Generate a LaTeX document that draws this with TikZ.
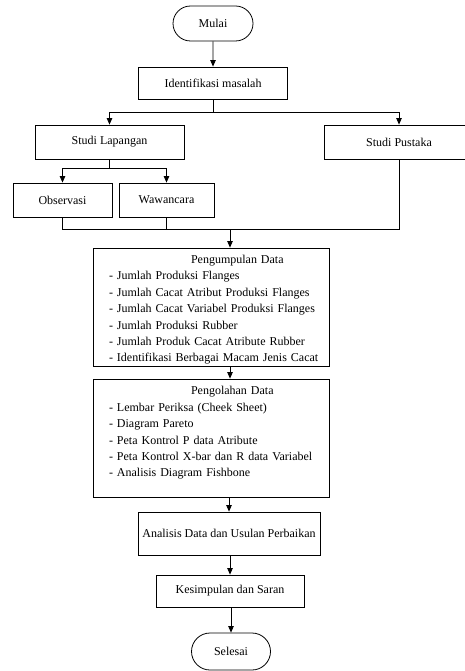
\documentclass[tikz,border=0pt]{standalone}
\usepackage{fontspec}
\setmainfont{Liberation Serif}
\usetikzlibrary{arrows.meta, shapes.misc}

\begin{document}
\begin{tikzpicture}[x=1pt, y=-1pt,
  every node/.style={font=\fontsize{12}{16.4}\selectfont},
  prosesbox/.style={draw, rectangle, line width=0.8pt, inner sep=0pt, align=center},
  daftarbox/.style={prosesbox, align=left, text width=222pt, inner xsep=7pt,
    minimum height=118, execute at begin node={\leftskip=9pt}},
  terminal/.style={draw, rounded rectangle, line width=0.8pt, inner sep=0pt},
  garis/.style={line width=0.8pt},
  panah/.style={garis, -{Triangle[width=5.5pt,length=6.5pt]}}]
\useasboundingbox (0,0) rectangle (464,671);
% Start and first step
\node[terminal, minimum width=80, minimum height=35] (mulai) at (213,23.5) {Mulai};
\node[prosesbox, minimum width=149, minimum height=32] (ident) at (213,83) {Identifikasi masalah};
\draw[panah] (mulai) -- (ident);
% Branch to the two studies
\node[prosesbox, minimum width=149, minimum height=34] (lapangan) at (109.5,142) {Studi Lapangan};
\node[prosesbox, minimum width=150, minimum height=34] (pustaka) at (399,142) {Studi Pustaka};
\coordinate (cabang1) at (213,112);
\draw[garis] (ident) -- (cabang1);
\draw[panah] (cabang1) -| (lapangan.north);
\draw[panah] (cabang1) -| (pustaka.north);
% Field study splits in two
\node[prosesbox, minimum width=99, minimum height=34] (observasi) at (62.5,200) {Observasi};
\node[prosesbox, minimum width=95, minimum height=34] (wawancara) at (166.5,200) {Wawancara};
\coordinate (cabang2) at (109.5,168);
\draw[garis] (lapangan) -- (cabang2);
\draw[panah] (cabang2) -| (observasi.north);
\draw[panah] (cabang2) -| (wawancara.north);
% Join everything into data collection
\coordinate (gabung) at (230,229);
\draw[garis] (observasi.south) |- (pustaka.south |- gabung) -- (pustaka.south);
\draw[garis] (wawancara.south) -- (wawancara.south |- gabung);
\node[daftarbox] (kumpul) at (211,307)
  {\rule{0pt}{14pt}\hspace*{82pt}Pengumpulan Data\\
   - Jumlah Produksi Flanges\\
   - Jumlah Cacat Atribut Produksi Flanges\\
   - Jumlah Cacat Variabel Produksi Flanges\\
   - Jumlah Produksi Rubber\\
   - Jumlah Produk Cacat Atribute Rubber\\
   - Identifikasi Berbagai Macam Jenis Cacat};
\draw[panah] (gabung) -- (gabung |- kumpul.north);
% Data processing
\node[daftarbox] (olah) at (211,438)
  {\rule{0pt}{12pt}\hspace*{82pt}Pengolahan Data\\
   - Lembar Periksa (Cheek Sheet)\\
   - Diagram Pareto\\
   - Peta Kontrol P data Atribute\\
   - Peta Kontrol X-bar dan R data Variabel\\
   - Analisis Diagram Fishbone\\
   \mbox{}};
\draw[panah] (gabung |- kumpul.south) -- (gabung |- olah.north);
% Analysis, conclusion, end
\node[prosesbox, minimum width=182, minimum height=43] (analisis) at (229,533.5) {Analisis Data dan Usulan Perbaikan};
\node[prosesbox, minimum width=148, minimum height=32] (kesimpulan) at (230,591) {Kesimpulan dan Saran};
\node[terminal, minimum width=79, minimum height=37] (selesai) at (231,651.5) {Selesai};
\draw[panah] (analisis.north |- olah.south) -- (analisis.north);
\draw[panah] (kesimpulan.north |- analisis.south) -- (kesimpulan.north);
\draw[panah] (selesai.north |- kesimpulan.south) -- (selesai.north);
\end{tikzpicture}
\end{document}
